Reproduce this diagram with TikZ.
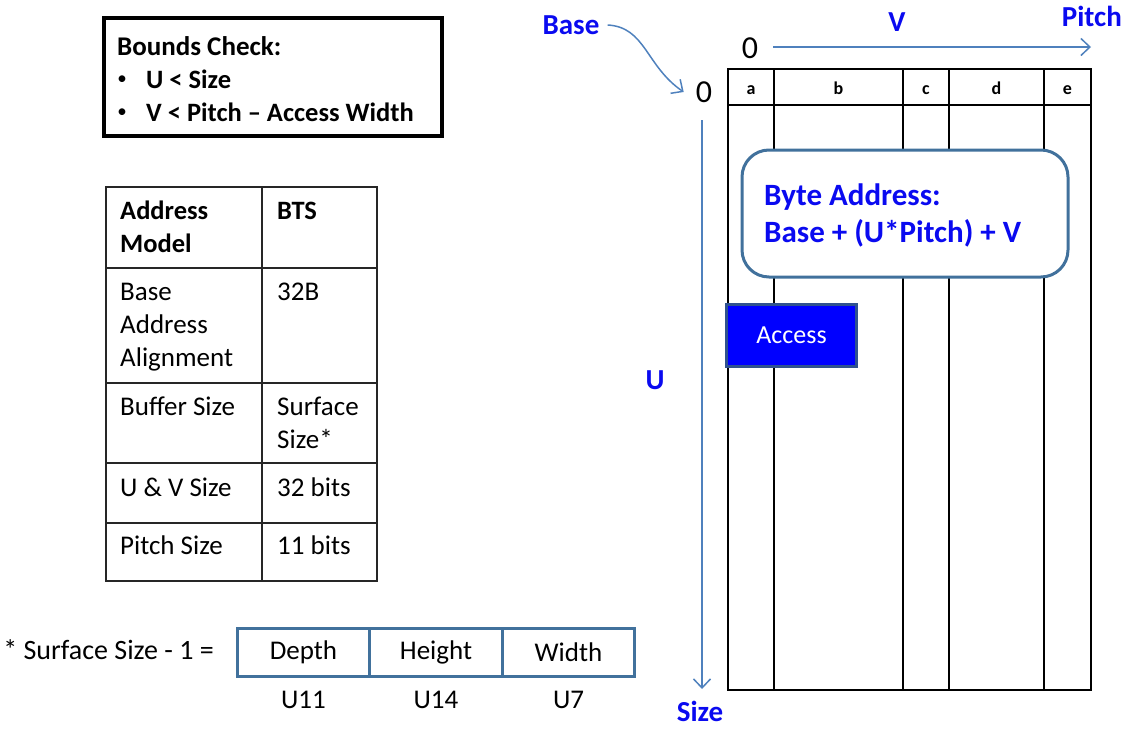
\documentclass[tikz,border=0pt]{standalone}
\usepackage{fontspec}
\setmainfont{Carlito}
\usepackage{xcolor}
\usetikzlibrary{arrows.meta, positioning, math}
\definecolor{steel}{HTML}{4F81BD}
\definecolor{boxline}{HTML}{41719C}
\definecolor{accline}{HTML}{2F528F}
\definecolor{lblue}{HTML}{0A0AF0}

\begin{document}
\begin{tikzpicture}[x=1pt,y=-1pt,
  txt/.style={inner sep=0,font=\fontsize{27}{33}\selectfont},
  btxt/.style={txt,font=\fontsize{26.5}{33}\selectfont\bfseries},
  lbl/.style={inner sep=0,text=lblue,font=\fontsize{29}{35}\selectfont\bfseries},
  tbl/.style={line width=2,draw=black!85},
  grid/.style={line width=2.5,draw=black},
  field/.style={draw=boxline,line width=3,outer sep=0,minimum width=132.5,minimum height=48,inner sep=0,font=\fontsize{27}{30}\selectfont},
  barb/.style={-{Straight Barb[length=9,width=17,line width=1.5]},draw=steel,line width=1.5}]
\tikzmath{
\gl=728; \gr=1091; \gt=69; \gb=690;
}
\useasboundingbox (0,0) rectangle (1124,728);

% bounds check
\node[draw,line width=4,minimum width=338,minimum height=118] (bounds) at (273,77) {};
\node[btxt,font=\fontsize{27}{33}\selectfont\bfseries,anchor=base west] (bctitle) at (117,55) {Bounds Check:};
\node[inner sep=0,font=\fontsize{19}{20}\selectfont,anchor=center] (bul1) at (122,80) {•};
\node[btxt,anchor=base west] (bcu) at (146,88) {U < Size};
\node[inner sep=0,font=\fontsize{19}{20}\selectfont,anchor=center] (bul2) at (122,113) {•};
\node[btxt,anchor=base west] (bcv) at (146,121) {V < Pitch – Access Width};

% table
\draw[tbl] (106,187) rectangle (377,581);
\draw[tbl] (262,187) -- (262,581);
\foreach \r in {268,383,463,523}{
\draw[tbl] (106,\r) -- (377,\r);
}
\foreach \x/\y/\t [count=\i] in {120/219/Address,120/252/Model,277/219/BTS}{
\node[btxt,anchor=base west] (hd\i) at (\x,\y) {\t};
}
\foreach \x/\y/\t [count=\i] in {120/300/Base,120/333/Address,120/366/Alignment,277/300/32B,
  120/415/Buffer Size,277/415/Surface,277/448/Size*,
  120/496/U \& V Size,277/496/32 bits,120/554/Pitch Size,277/554/11 bits}{
\node[txt,anchor=base west] (cell\i) at (\x,\y) {\t};
}

% surface size fields
\node[txt,font=\fontsize{28}{30}\selectfont,anchor=east] (sfsize) at (214,650) {* Surface Size - 1 =};
\node[field] (depth) at (303.5,652) {Depth};
\node[field,right=0 of depth] (height) {Height};
\node[field,right=0 of height] (width) {Width};
\node[txt] (u11) at (303.5,700) {U11};
\node[txt] (u14) at (436,700) {U14};
\node[txt] (u7) at (568.5,700) {U7};

% surface grid
\draw[grid] (\gl,\gt) rectangle (\gr,\gb);
\draw[grid] (\gl,105) -- (\gr,105);
\foreach \c in {774,903,949,1044}{
\draw[grid] (\c,\gt) -- (\c,\gb);
}
\foreach \x/\t in {751/a,838.5/b,926/c,996.5/d,1067.5/e}{
\node[inner sep=0,font=\fontsize{18}{20}\selectfont\bfseries,anchor=base] (col\t) at (\x,94) {\t};
}
\node[draw=boxline,line width=3,fill=white,rounded corners=27,minimum width=326,minimum height=127] (addr) at (905,213.5) {};
\node[lbl,font=\fontsize{31}{37}\selectfont\bfseries,anchor=base west] (addr1) at (764,205) {Byte Address:};
\node[lbl,font=\fontsize{31}{37}\selectfont\bfseries,anchor=base west] (addr2) at (764,242) {Base + (U*Pitch) + V};
\node[fill=blue,draw=accline,line width=3,minimum width=130,minimum height=62,text=white,font=\fontsize{26}{30}\selectfont] (access) at (791.5,335.5) {Access};

% axes
\node[txt,font=\fontsize{32}{36}\selectfont] (zerou) at (704,92) {0};
\node[txt,font=\fontsize{32}{36}\selectfont] (zerov) at (750,48) {0};
\node[lbl] (base) at (571,25) {Base};
\node[lbl] (vlbl) at (897,22) {V};
\node[lbl,anchor=east] (pitch) at (1122,16) {Pitch};
\node[lbl] (ulbl) at (655,380) {U};
\node[lbl,anchor=base] (size) at (700,721) {Size};
\coordinate (vstart) at (773,47);
\coordinate (vend) at (1091,47);
\coordinate (ustart) at (702,120);
\coordinate (uend) at (702,689);
\draw[barb] (vstart) -- (vend);
\draw[barb] (ustart) -- (uend);
\draw[barb] ([xshift=8]base.east) .. controls +(38,2) and +(-38,-26) .. ([xshift=-12]zerou.west);

\end{tikzpicture}
\end{document}
